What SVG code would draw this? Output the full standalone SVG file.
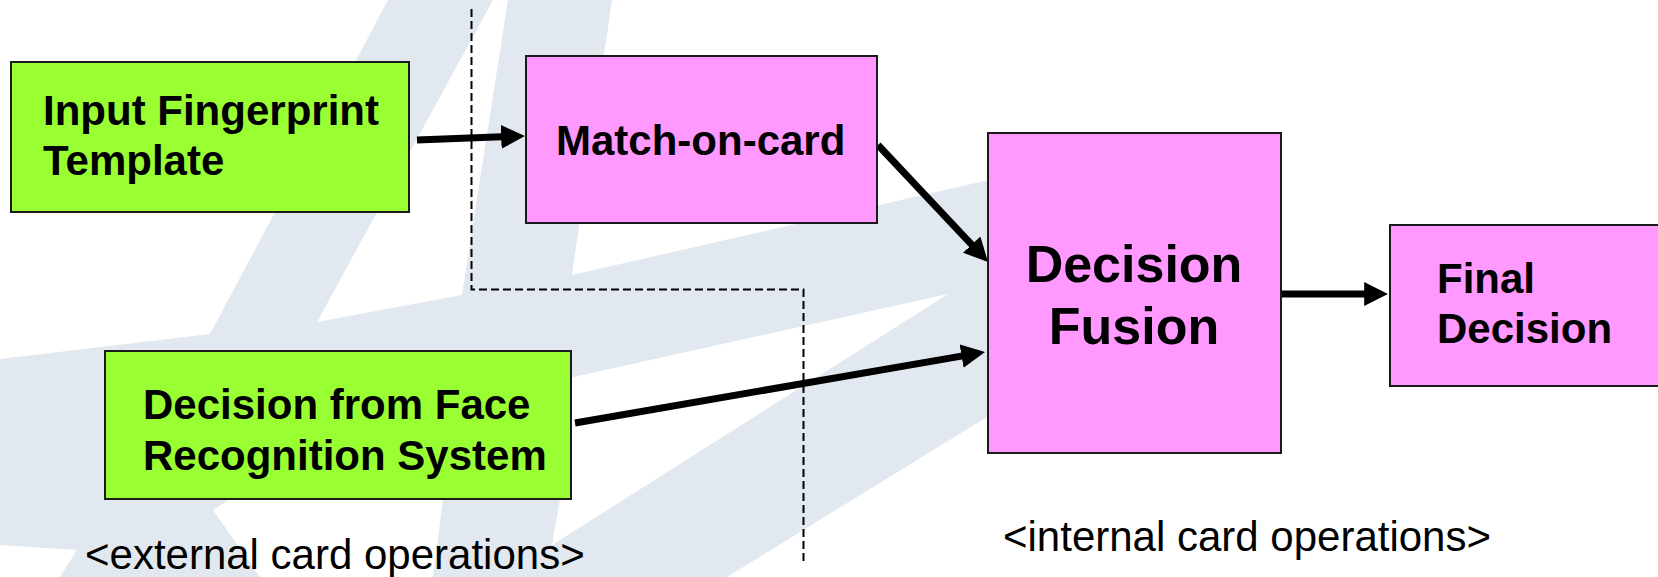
<svg xmlns="http://www.w3.org/2000/svg" width="1658" height="577" viewBox="0 0 1658 577">
  <defs>
    <style>
      .wm { fill: #e1e8ef; }
      .cut { fill: #ffffff; }
      .box { stroke: #1a1a1a; stroke-width: 2; }
      .green { fill: #99ff33; }
      .pink { fill: #ff99ff; }
      .lbl { font-family: "Liberation Sans", Arial, sans-serif; font-weight: bold; fill: #000; }
      .note { font-family: "Liberation Sans", Arial, sans-serif; font-size: 42px; fill: #000; }
      .flow { stroke: #000; stroke-width: 7; fill: none; marker-end: url(#head); }
      .border { stroke: #000; stroke-width: 2; fill: none; stroke-dasharray: 8 4; }
    </style>
    <marker id="head" viewBox="0 0 10 10" refX="3" refY="5" markerWidth="3.4" markerHeight="3.4" orient="auto" markerUnits="strokeWidth">
      <path d="M0,0 L10,5 L0,10 z" fill="#000"/>
    </marker>
  </defs>

  <rect width="1658" height="577" fill="#ffffff"/>

  <!-- faint background emblem -->
  <g id="emblem">
    <polygon class="wm" points="388,0 612,0 572,275 989,180 1100,155 1100,380 987,417 727,577 0,577 0,359 210,334"/>
    <polygon class="cut" points="493,0 508,0 462,295 317,322"/>
    <polygon class="cut" points="948,294 560,380 560,499 552,545"/>
    <polygon class="cut" points="213,510 230,499 443,499 433,577 260,577"/>
    <polygon class="cut" points="0,545 77,550 60,577 0,577"/>
  </g>

  <!-- boundary between external and internal card operations -->
  <path class="border" d="M471.5,9 V289.5 H803.5 V562"/>

  <g id="connectors">
    <path class="flow" d="M417,140 L508.3,136.6"/>
    <path class="flow" d="M878,145 L976.6,249.8"/>
    <path class="flow" d="M575,423 L968.6,354.9"/>
    <path class="flow" d="M1282,294 L1371.3,294"/>
  </g>

  <g id="input-fingerprint">
    <rect class="box green" x="11" y="62" width="398" height="150"/>
    <text class="lbl" font-size="42" x="43" y="125">Input Fingerprint</text>
    <text class="lbl" font-size="42" x="43" y="175">Template</text>
  </g>

  <g id="match-on-card">
    <rect class="box pink" x="526" y="56" width="351" height="167"/>
    <text class="lbl" font-size="42" x="556" y="155">Match-on-card</text>
  </g>

  <g id="face-decision">
    <rect class="box green" x="105" y="351" width="466" height="148"/>
    <text class="lbl" font-size="42" x="143" y="419">Decision from Face</text>
    <text class="lbl" font-size="42" x="143" y="470">Recognition System</text>
  </g>

  <g id="decision-fusion">
    <rect class="box pink" x="988" y="133" width="293" height="320"/>
    <text class="lbl" font-size="52" x="1134" y="282" text-anchor="middle">Decision</text>
    <text class="lbl" font-size="52" x="1134" y="344" text-anchor="middle">Fusion</text>
  </g>

  <g id="final-decision">
    <rect class="box pink" x="1390" y="225" width="272" height="161"/>
    <text class="lbl" font-size="42" x="1437" y="293">Final</text>
    <text class="lbl" font-size="42" x="1437" y="343">Decision</text>
  </g>

  <g id="captions">
    <text class="note" x="85" y="569">&lt;external card operations&gt;</text>
    <text class="note" x="1003" y="551">&lt;internal card operations&gt;</text>
  </g>
</svg>
